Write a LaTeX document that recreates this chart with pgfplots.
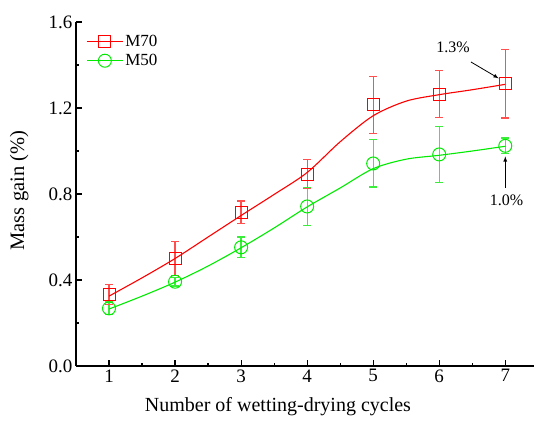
\documentclass[border=0pt]{standalone}
\usepackage{pgfplots}
\pgfplotsset{compat=1.18}
\usepackage{fontspec}
\setmainfont{Liberation Serif}
\definecolor{mred}{RGB}{255,0,0}
\definecolor{mgreen}{RGB}{0,235,0}
\definecolor{mredl}{RGB}{255,80,80}
\definecolor{mgreenl}{RGB}{60,238,60}
\begin{document}
\begin{tikzpicture}
\begin{axis}[
  scale only axis, width=459pt, height=344pt,
  xmin=0.5, xmax=7.45, ymin=0, ymax=1.6,
  axis x line*=bottom, axis y line*=left,
  axis line style={line width=1.4pt, -},
  xtick={1,...,7}, ytick={0,0.4,0.8,1.2,1.6},
  minor xtick={1.5,2.5,...,7.5}, minor ytick={0.2,0.6,1.0,1.4},
  tick align=inside,
  major tick length=6pt, minor tick length=3pt,
  tick style={line width=1.2pt, black},
  yticklabel style={/pgf/number format/.cd, fixed, fixed zerofill, precision=1},
  /pgf/number format/assume math mode=true,
  ticklabel style={font=\fontsize{19}{21}\selectfont},
  xlabel={Number of wetting-drying cycles},
  ylabel={Mass gain (\%)},
  xlabel style={font=\fontsize{20}{22}\selectfont, at={(rel axis cs:0.44,0)}, anchor=north, yshift=-28pt},
  ylabel style={font=\fontsize{20.5}{22}\selectfont, at={(rel axis cs:0,0.51)}, anchor=south, yshift=44pt},
  legend style={draw=none, fill=none, at={(rel axis cs:0.02,0.97)}, anchor=north west,
    font=\fontsize{17}{19}\selectfont, row sep=2pt, inner sep=1pt},
  legend cell align=left,
  legend image code/.code={\draw[mark repeat=2, mark phase=2, #1] plot coordinates {(0pt,0pt) (18pt,0pt) (36pt,0pt)};},
  unbounded coords=jump,
  clip=false,
]
\coordinate (O) at (rel axis cs:0,0);
\addlegendimage{mred, line width=1pt, mark=square, mark size=6pt, mark options={fill=white, line width=1pt}}
\addlegendentry{M70}
\addlegendimage{mgreen, line width=1pt, mark=o, mark size=6.5pt, mark options={fill=white, line width=1pt}}
\addlegendentry{M50}
% error bars M70 (lower, upper)
\addplot[color=mredl, line width=1.3pt, forget plot, mark=|, mark options={rotate=90, mark size=4pt, solid}] coordinates {
(1,0.286) (1,0.380) (1,nan)
(2,0.422) (2,0.578) (2,nan)
(3,0.664) (3,0.768) (3,nan)
(4,0.825) (4,0.961) (4,nan)
(5,1.082) (5,1.346) (5,nan)
(6,1.155) (6,1.375) (6,nan)
(7,1.153) (7,1.473)};
% error bars M50
\addplot[color=mgreenl, line width=1.3pt, forget plot, mark=|, mark options={rotate=90, mark size=4pt, solid}] coordinates {
(1,0.238) (1,0.298) (1,nan)
(2,0.372) (2,0.412) (2,nan)
(3,0.504) (3,0.600) (3,nan)
(4,0.654) (4,0.830) (4,nan)
(5,0.832) (5,1.052) (5,nan)
(6,0.854) (6,1.114) (6,nan)
(7,0.987) (7,1.061)};
% fitted curves
\addplot[mred, line width=1.1pt, smooth, forget plot] coordinates {
(1,0.325) (1.5,0.41) (2,0.50) (2.5,0.60) (3,0.70) (3.5,0.798) (4,0.90) (4.5,1.043) (5,1.164) (5.5,1.232) (6,1.262) (6.5,1.285) (7,1.31)};
\addplot[mgreen, line width=1.1pt, smooth, forget plot] coordinates {
(1,0.265) (1.5,0.325) (2,0.39) (2.5,0.465) (3,0.55) (3.5,0.642) (4,0.74) (4.5,0.828) (5,0.918) (5.5,0.962) (6,0.98) (6.5,1.0) (7,1.022)};
% data points
\addplot[only marks, mred, mark=square, mark size=6pt, mark options={fill=white, fill opacity=0.75, line width=1pt}, forget plot]
  coordinates {(1,0.333) (2,0.500) (3,0.716) (4,0.893) (5,1.214) (6,1.265) (7,1.313)};
\addplot[only marks, mgreen, mark=o, mark size=6.5pt, mark options={fill=white, fill opacity=0.75, line width=1pt}, forget plot]
  coordinates {(1,0.268) (2,0.392) (3,0.552) (4,0.742) (5,0.942) (6,0.984) (7,1.024)};
\node[font=\fontsize{16}{18}\selectfont] at (axis cs:6.21,1.484) {1.3\%};
\draw[-latex, line width=0.8pt] (axis cs:6.48,1.414) -- (axis cs:6.90,1.338);
\node[font=\fontsize{16}{18}\selectfont] at (axis cs:7.02,0.772) {1.0\%};
\draw[-latex, line width=0.8pt] (axis cs:7,0.83) -- (axis cs:7,0.975);
\end{axis}
\pgfresetboundingbox
\path[use as bounding box] (O) ++(-76pt,-56pt) rectangle ++(534pt,422pt);
\end{tikzpicture}
\end{document}
